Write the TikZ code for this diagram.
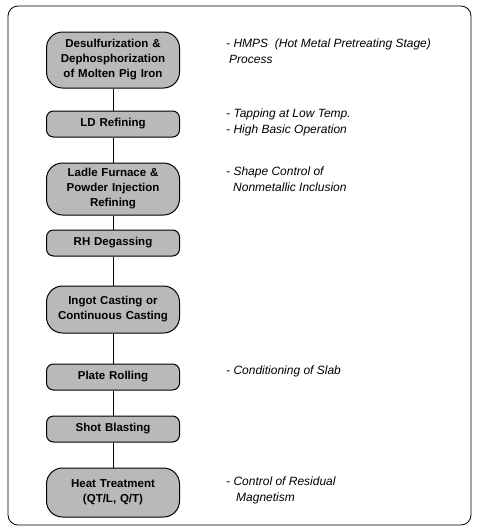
\documentclass[tikz,border=0pt]{standalone}
\usepackage{fontspec}
\setmainfont{Liberation Sans}
\usetikzlibrary{positioning}

\begin{document}
\begin{tikzpicture}[
    x=1pt, y=-1pt,
    stage/.style={rectangle, draw, line width=1pt, fill=gray!55, minimum width=133pt, text width=129pt, align=center, inner sep=2pt, font=\fontsize{11.5}{15}\selectfont\bfseries},
    tall/.style={stage, rounded corners=16pt},
    flat/.style={stage, rounded corners=7pt, minimum height=26pt},
    note/.style={anchor=north west, align=left, inner sep=0pt, font=\fontsize{12}{16}\selectfont\itshape},
    link/.style={line width=0.8pt},
]
\useasboundingbox (0,0) rectangle (480,531);

% Frame
\draw[line width=0.8pt, rounded corners=10pt] (8,6) rectangle (471,525);

% Process column
\node[tall, minimum height=56pt] (desulf) at (113,60) {Desulfurization \&\\Dephosphorization\\of Molten Pig Iron};
\node[flat, below=22pt of desulf] (ld) {LD Refining};
\node[tall, minimum height=52pt, below=25pt of ld] (ladle) {Ladle Furnace \&\\Powder Injection\\Refining};
\node[flat, below=14pt of ladle] (rh) {RH Degassing};
\node[tall, minimum height=47pt, below=29pt of rh] (cast) {Ingot Casting or\\Continuous Casting};
\node[flat, below=30pt of cast] (rolling) {Plate Rolling};
\node[flat, below=25pt of rolling] (blast) {Shot Blasting};
\node[tall, minimum height=49pt, below=25pt of blast] (heat) {Heat Treatment\\(QT/L, Q/T)};

% Links
\draw[link] (desulf) -- (ld);
\draw[link] (ld) -- (ladle);
\draw[link] (ladle) -- (rh);
\draw[link] (rh) -- (cast);
\draw[link] (cast) -- (rolling);
\draw[link] (rolling) -- (blast);
\draw[link] (blast) -- (heat);

% Notes
\node[note] (hmps) at (226,39) {- HMPS\ \ (Hot Metal Pretreating Stage)\\\hspace{3pt}Process};
\node[note] (tapping) at (226,109) {- Tapping at Low Temp.\\- High Basic Operation};
\node[note] (shape) at (226,167) {- Shape Control of\\\hspace{7pt}Nonmetallic Inclusion};
\node[note] (slab) at (226,366) {- Conditioning of Slab};
\node[note] (magnet) at (226,477) {- Control of Residual\\\hspace{10pt}Magnetism};

\end{tikzpicture}
\end{document}
